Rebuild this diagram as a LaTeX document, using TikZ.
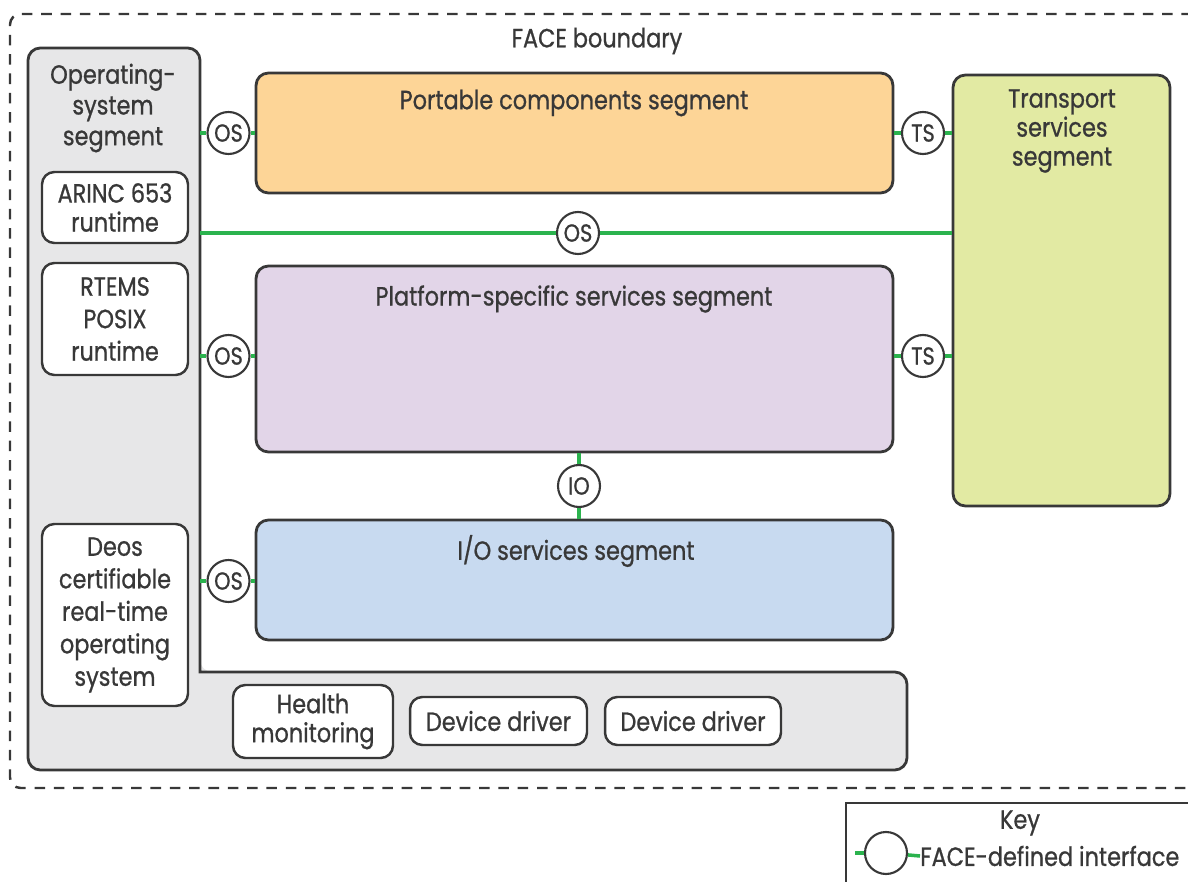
\documentclass[tikz,border=0pt]{standalone}
\usepackage{fontspec}
\setmainfont{Poppins}[FakeStretch=0.85,FakeBold=0.8]
\usetikzlibrary{positioning}
\definecolor{PortOrange}{HTML}{FDD597}
\definecolor{PlatLilac}{HTML}{E2D5E8}
\definecolor{IOBlue}{HTML}{C8DAF0}
\definecolor{TransLime}{HTML}{E2EAA3}
\definecolor{OSGrey}{HTML}{E7E7E8}
\definecolor{IfGreen}{HTML}{2BB34E}
\definecolor{Ink}{HTML}{383838}

\begin{document}
\begin{tikzpicture}[x=0.02cm,y=-0.02cm,text=Ink,
  font=\fontsize{15}{18.5}\selectfont,
  seg/.style={draw=Ink,line width=1.6pt,rounded corners=7pt,inner sep=0pt},
  rt/.style={draw=Ink,fill=white,line width=1.4pt,rounded corners=7pt,align=center,inner sep=0pt},
  intf/.style={circle,draw=Ink,line width=1.2pt,fill=white,minimum size=0.84cm,inner sep=0pt,
    font=\fontsize{14}{14}\selectfont},
  link/.style={IfGreen,line width=2pt}]
  \useasboundingbox (0,0) rectangle (1188,882);
  \clip (0,0) rectangle (1188,882);

  % FACE boundary
  \draw[Ink,line width=1.4pt,dash pattern=on 6pt off 5pt,rounded corners=6pt]
    (1250,14) -- (10,14) -- (10,788) -- (1250,788);
  \node (bnd) at (597,41) {FACE boundary};

  % operating-system segment (L shape)
  \fill[OSGrey,rounded corners=7pt] (200,672) -- (200,48) -- (28,48) -- (28,770)
    -- (907,770) -- (907,672) -- cycle;
  \draw[Ink,line width=1.6pt,rounded corners=7pt,line cap=rect] (200,672) -- (200,48)
    -- (28,48) -- (28,770) -- (907,770) -- (907,672) -- (200,672);
  \coordinate (osr) at (200,0);
  \node[align=center,font=\fontsize{15}{17.5}\selectfont] (ostxt) at (113,108) {Operating-\\system\\segment};

  \node[rt,minimum width=2.92cm,minimum height=1.42cm,font=\fontsize{15}{16.5}\selectfont]
    (arinc) at (115,207.5) {ARINC 653\\runtime};
  \node[rt,minimum width=2.92cm,minimum height=2.24cm] (rtems) at (115,319) {RTEMS\\POSIX\\runtime};
  \node[rt,minimum width=2.92cm,minimum height=3.64cm] (deos) at (115,615)
    {Deos\\certifiable\\real-time\\operating\\system};
  \node[rt,minimum width=3.2cm,minimum height=1.46cm,font=\fontsize{15}{16.5}\selectfont]
    (hm) at (313,721.5) {Health\\monitoring};
  \node[rt,minimum width=3.54cm,minimum height=0.96cm] (dd1) at (498.5,721) {Device driver};
  \node[rt,minimum width=3.52cm,minimum height=0.96cm] (dd2) at (693,721) {Device driver};

  % segments
  \node[seg,fill=PortOrange,minimum width=12.74cm,minimum height=2.4cm] (pcs) at (574.5,133) {};
  \node (pcstxt) at (574,103) {Portable components segment};
  \node[seg,fill=PlatLilac,minimum width=12.74cm,minimum height=3.72cm] (pss) at (574.5,359) {};
  \node (psstxt) at (574,299) {Platform-specific services segment};
  \node[seg,fill=IOBlue,minimum width=12.74cm,minimum height=2.4cm] (ios) at (574.5,580) {};
  \node (iostxt) at (576,551) {I/O services segment};
  \node[seg,fill=TransLime,minimum width=4.34cm,minimum height=8.62cm] (tss) at (1061.5,290.5) {};
  \node[align=center,font=\fontsize{15}{16.5}\selectfont] (tsstxt) at (1062,131) {Transport\\services\\segment};

  % interfaces
  \node[intf] (ospc) at (228.5,133) {OS};
  \node[intf] (ospss) at (228.5,356) {OS};
  \node[intf] (osio) at (228.5,581) {OS};
  \node[intf] (osmid) at (578,233) {OS};
  \node[intf] (tspc) at (923,133) {TS};
  \node[intf] (tspss) at (923,356) {TS};
  \node[intf] (iof) at (579,486) {IO};

  \draw[link] (ospc -| osr) -- (ospc);
  \draw[link] (ospc) -- (ospc -| pcs.west);
  \draw[link] (ospss -| osr) -- (ospss);
  \draw[link] (ospss) -- (ospss -| pss.west);
  \draw[link] (osio -| osr) -- (osio);
  \draw[link] (osio) -- (osio -| ios.west);
  \draw[link] (osmid -| osr) -- (osmid);
  \draw[link] (osmid) -- (osmid -| tss.west);
  \draw[link] (tspc -| pcs.east) -- (tspc);
  \draw[link] (tspc) -- (tspc -| tss.west);
  \draw[link] (tspss -| pss.east) -- (tspss);
  \draw[link] (tspss) -- (tspss -| tss.west);
  \draw[link] (iof |- pss.south) -- (iof);
  \draw[link] (iof) -- (iof |- ios.north);

  % key
  \draw[Ink,line width=1.2pt] (1250,803) -- (846,803) -- (846,900);
  \node (keytxt) at (1020,823) {Key};
  \node[intf] (keyif) at (886,853) {};
  \coordinate (keyl) at (855,853);
  \node[anchor=west,inner sep=0pt] (keylbl) at (920,856) {FACE-defined interface};
  \draw[link] (keyl) -- (keyif);
  \draw[link] (keyif) -- (keylbl.west);
\end{tikzpicture}
\end{document}
